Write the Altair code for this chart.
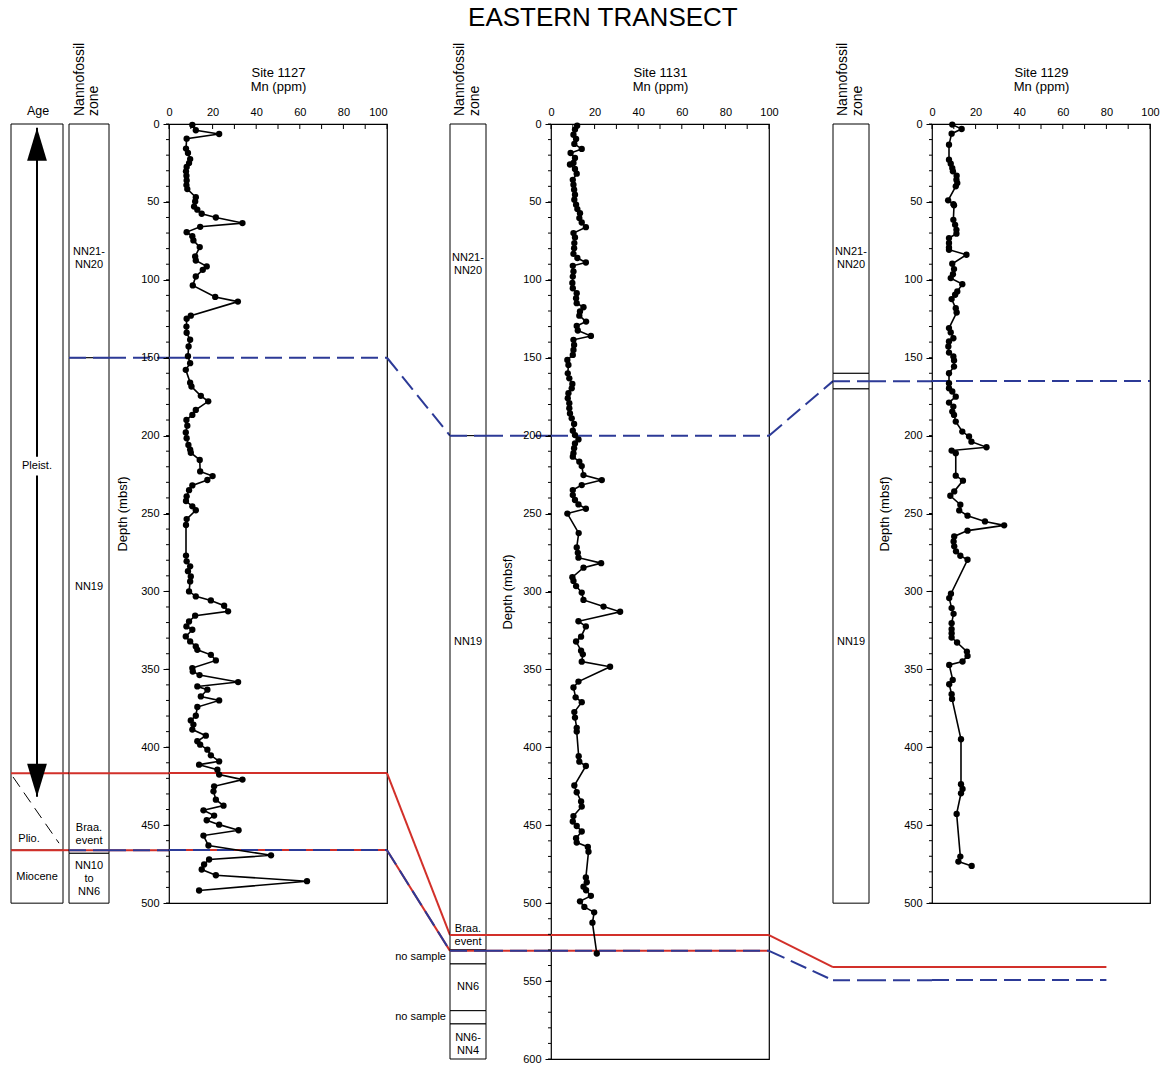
import altair as alt
import pandas as pd

# ------------------------------------------------------------------ data
site1127_depth = [0.6, 4, 6.4, 9.4, 15.8, 18.6, 22.5, 25.1, 27.6, 30.4, 33.2, 36.2, 39.2, 41.8,
    47, 49.7, 53, 55, 57.6, 60, 63.6, 66, 69.4, 72, 74.7, 79, 85, 87.6, 91.4, 93.6, 97.9, 103.6,
    111, 114, 123, 125, 130, 134, 138.5, 142.8, 149, 153.5, 157.8, 166, 168.5, 174.5, 178, 183.5,
    186.7, 190, 193.6, 198, 201.7, 206, 209, 211, 215.6, 223, 226, 228.5, 232, 235, 239, 242,
    245.4, 247.9, 253.6, 257.4, 277, 280.7, 283.9, 287, 290.4, 293.6, 300, 303.2, 305.8, 309.2,
    312.8, 315.6, 319.3, 322.5, 324.6, 328.9, 332.1, 335.3, 337.5, 340.7, 344.3, 349.2, 351.4,
    353.7, 358.2, 361, 363.1, 367.4, 370, 374.2, 379.8, 382.8, 385.5, 388.7, 392.6, 396.2, 398.4,
    401.6, 405.2, 409.1, 411.2, 414.4, 417.6, 420.8, 425.1, 428.3, 433.7, 437.5, 440.5, 443.9,
    446.9, 449.7, 453.3, 456.7, 463.1, 469.4, 472.1, 475.3, 478.5, 482.2, 486, 492]
site1127_mn = [10.7, 12.3, 23, 8.1, 7.8, 8.7, 9.7, 9.2, 8.1, 7.8, 8, 8.1, 8, 8.4,
    12.3, 12, 11.5, 13, 15, 21.5, 33.7, 14.3, 8.1, 10.7, 11.2, 14.1, 12, 12.3, 17.3, 15.5, 12.3, 10.9,
    21.2, 31.6, 10, 8.1, 8, 8.1, 9.7, 9, 8.7, 9.7, 7.7, 9.7, 10.3, 14.6, 18, 12.3,
    10.7, 8, 8.4, 7.7, 8.1, 8.9, 9.7, 10, 14.1, 14.3, 20, 17.6, 10.7, 9.2, 8.1, 7.8,
    10.7, 12.3, 8.1, 7.8, 7.8, 8.1, 9.7, 8.7, 10, 9.7, 9.2, 12.3, 19.2, 25.3,
    27.1, 12, 9.2, 8, 10.7, 7.7, 9.7, 12.3, 13, 19.2, 21.5, 10.7, 10.9,
    14, 31.7, 13, 17.6, 14.6, 23, 13, 12.3, 10, 11.2, 10.7, 16.9, 13, 14.3,
    17.6, 19.2, 23, 13.8, 22.2, 23, 33.7, 20.7, 20.4, 21.5, 25, 15.8, 20.7,
    17.3, 23, 31.9, 15.8, 18.1, 46.8, 18.4, 16.1, 15, 21.5, 63.3, 13.8]

site1131_depth = [1.1, 3.6, 6.9, 9.6, 12.8, 16, 18.6, 21.8, 25, 26,
    28.9, 31.9, 35.8, 39, 42.2, 45.4, 48.6, 51.8, 54.6, 57.2,
    60.4, 63.2, 66.2, 70, 72.8, 76.4, 79.7, 83.3, 86, 88.9,
    91, 94.6, 97.9, 102, 105.4, 108.6, 111.8, 115, 117.6, 120.3,
    123, 126.8, 129.6, 132.5, 136, 138.5, 141.8, 145, 148.2, 151.4,
    154.6, 160, 163.2, 166.8, 169.6, 172.8, 176, 179.2, 182.4, 185.7,
    188.9, 192.5, 196.8, 199.6, 202.4, 205, 208, 211.3, 213.5, 216.7,
    219.5, 225.3, 228.5, 231.7, 234.9, 238.1, 241.3, 244.1, 246.9, 250,
    262.5, 271.7, 275.2, 278.3, 281.8, 284.7, 290.8, 293.2, 296.5, 300.7,
    305.4, 309.7, 313, 319.1, 322.4, 329, 332.1, 338, 340.3, 345,
    348.3, 357.8, 361.6, 367.9, 371, 377.4, 380.9, 387.5, 389.9, 405.7,
    409.2, 412, 424.5, 428.8, 434.7, 438, 444.1, 447.6, 450.5, 454,
    458.3, 461.1, 463.9, 467, 483.5, 486.6, 489.4, 491.7, 495.3, 498.8,
    502.4, 505.9, 512.5, 532.3]
site1131_mn = [12, 11, 10.3, 11.5, 10.7, 14.1, 9, 11, 10.3, 8.7,
    11, 11.8, 10, 10.3, 10.6, 11, 10.7, 11.5, 12.1, 13.3,
    13, 14.1, 16, 10.3, 11, 10.7, 10.6, 10.3, 12.1, 16,
    10, 10.3, 10, 9.8, 10, 11.8, 11.5, 11.8, 14.9, 13.3,
    13, 16.1, 11.8, 12.3, 18.3, 10.3, 10.6, 10.3, 10, 7.5,
    8, 7.7, 8.4, 9.8, 9.5, 8, 7.7, 8.4, 8.4, 8.7,
    9.5, 10.6, 10, 11, 12.6, 11, 10.6, 10.3, 10, 13,
    14.1, 14.9, 23.3, 14.1, 10, 10, 11, 12.6, 16, 7.5,
    12.7, 11.8, 12.3, 12.6, 23, 14.9, 9.8, 10.3, 11.5, 14.1,
    14.9, 24.1, 31.7, 12.6, 16, 13.8, 11.5, 13.8, 14.6, 14.1,
    27.1, 12.6, 10.3, 11.3, 14.1, 10.7, 11, 11.8, 11.8, 12.7,
    13, 16, 10.7, 11.8, 13.8, 14.1, 10.3, 10, 11.8, 14.1,
    11.5, 11.8, 16.9, 17.2, 16, 16.4, 14.9, 16.1, 18.3, 13.3,
    15.3, 19.8, 19, 21]

site1129_depth = [0.4, 3.2, 6.2, 13.3, 22.9, 25.5, 28.3, 30.4, 33.2, 35.8,
    37.9, 40, 49, 51.4, 52.2, 61.5, 64.7, 67.9, 70.4, 73.2,
    76.4, 79.2, 80.7, 83.9, 89.7, 93.1, 96.4, 98.9, 102.8, 107.5,
    109.6, 112.4, 118.2, 121, 131, 133.8, 137.5, 139.6, 142.8, 146.7,
    149.2, 151.8, 155.7, 160, 166.4, 169.6, 171.7, 175, 178.8, 181.4,
    184.6, 186.7, 191, 197.4, 200.6, 203.9, 207.5, 209.6, 211.3, 225.7,
    228.9, 235.8, 238.6, 244.4, 248, 251.4, 255.1, 257.6, 261, 264.7,
    267.9, 271.1, 274.3, 277.1, 279.7, 301.5, 304.3, 310.7, 314.4, 320.4,
    324.2, 326.8, 329.6, 332.8, 338.6, 341.4, 345, 347.2, 356.8, 359.6,
    366, 369, 394.9, 423.8, 426.8, 429.6, 442.8, 470.2, 473.4, 476.2]
site1129_mn = [9.3, 13.6, 9, 7.8, 7.8, 8.6, 9.3, 9.6, 11.3, 11.2,
    11.6, 10.9, 7.4, 9.8, 10.1, 9.8, 10.6, 11.2, 11.2, 7.8,
    7.8, 7.8, 7.8, 15.8, 9.3, 10.1, 9.6, 8.6, 13.9, 11.6,
    10.6, 9, 10.9, 11.3, 7.8, 8.6, 9.8, 7.8, 7.5, 7.8,
    9.8, 10.1, 10.1, 7.8, 7.8, 7.8, 9.3, 10.9, 7.8, 9.8,
    9.3, 10.1, 10.9, 13.9, 17, 18.1, 25, 9, 10.9, 10.9,
    14.2, 10.2, 8.4, 13, 12.5, 16.3, 24.3, 33.1, 16.3, 10.2,
    9.9, 10.2, 11, 13, 16.3, 8.7, 7.9, 9, 9.9, 9,
    9, 9, 9, 11.5, 16, 16.3, 14, 7.9, 9.5, 7.9,
    9, 9.2, 13.3, 13.3, 14, 13.3, 11.3, 13, 12.1, 18.2]

# tick values
mn_tick_values = list(range(0, 101, 10))
mn_label_values = list(range(0, 101, 20))

# age column
age_box_top = [0, 466]
age_box_bottom = [466, 500]
age_labels = ["Pleist.", "Plio.", "Miocene"]
age_label_depth = [219.5, 458.7, 483]
age_arrow_tips = [2.4, 431.7]
age_boundary_dash = [419, 461.5]

# nannofossil zones
zone1_top = [0, 150, 468]
zone1_bottom = [150, 468, 500]
zone1_labels = ["NN21-\nNN20", "NN19", "Braa.\nevent", "NN10\nto\nNN6"]
zone1_label_depth = [86.6, 297, 456, 484.5]

zone2_top = [0, 200, 530, 539, 569, 577.5]
zone2_bottom = [200, 530, 539, 569, 577.5, 600]
zone2_labels = ["NN21-\nNN20", "NN19", "Braa.\nevent", "NN6", "NN6-\nNN4"]
zone2_label_depth = [90, 332.5, 520.6, 554, 590.5]
zone2_gap_labels = ["no sample", "no sample"]
zone2_gap_depth = [534.5, 573.3]

zone3_top = [0, 160, 170]
zone3_bottom = [160, 170, 500]
zone3_labels = ["NN21-\nNN20", "NN19"]
zone3_label_depth = [86.6, 332.5]

# correlation lines (depth at each site)
corr_kind = ["red", "red", "blue", "blue"]
corr_d1127 = [416.6, 466.0, 150.0, 466.0]
corr_d1131 = [520.5, 530.6, 200.0, 530.6]
corr_d1129 = [541.0, None, 165.0, 549.5]
corr_end_mn_1129 = [80, None, 100, 80]

# ------------------------------------------------------------------ layout / style
FONT = "Liberation Sans"
RED = "#d2302a"
BLUE = "#2c3a97"
H_FULL = 935   # 600 m
H_SITE = 779   # 500 m
W_PLOT = 218
LABEL_LH = 13

columns = [
    ("age", 52, "a"), ("gap", 6, "a"), ("zone1", 40, "a"), ("gap", 60, "a"), ("p1127", W_PLOT, "a"),
    ("gap", 63, "ab"), ("zone2", 36, "b"), ("gap", 65, "b"), ("p1131", W_PLOT, "b"),
    ("gap", 64, "bc"), ("zone3", 36, "c"), ("gap", 63, "c"), ("p1129", W_PLOT, "c"),
]
corr_first_col = [0, 0, 2, 2]


def yscale(maxd):
    return alt.Scale(domain=[0, maxd], reverse=True, nice=False, zero=False)


def segments(ci, kind):
    name, w, grp = columns[ci]
    rows = []
    for k in range(len(corr_kind)):
        if corr_kind[k] != kind or ci < corr_first_col[k]:
            continue
        a, b, c = corr_d1127[k], corr_d1131[k], corr_d1129[k]
        if grp == "a":
            y1 = y2 = a
        elif grp == "ab":
            y1, y2 = a, b
        elif grp == "b":
            y1 = y2 = b
        elif grp == "bc":
            if c is None:
                continue
            y1, y2 = b, c
        else:
            if c is None:
                continue
            y1 = y2 = c
        if name.startswith("p"):
            x1, x2 = 0, (corr_end_mn_1129[k] if name == "p1129" else 100)
        else:
            x1, x2 = 0, 1
        rows.append(dict(x1=x1, x2=x2, y1=y1, y2=y2))
    return pd.DataFrame(rows)


def corr_layers(ci, maxd, xaxis=None, yaxis=None):
    name = columns[ci][0]
    xdom = [0, 100] if name.startswith("p") else [0, 1]
    out = []
    for kind, color, dash in (("red", RED, None), ("blue", BLUE, [17, 7])):
        df = segments(ci, kind)
        if df.empty:
            continue
        kw = dict(color=color, strokeWidth=2)
        if dash:
            kw["strokeDash"] = dash
        out.append(alt.Chart(df).mark_rule(**kw).encode(
            x=alt.X("x1:Q", scale=alt.Scale(domain=xdom, nice=False, zero=False), axis=xaxis),
            x2="x2:Q",
            y=alt.Y("y1:Q", scale=yscale(maxd), axis=yaxis),
            y2="y2:Q"))
    return out


def label_layers(labels, depths, x, ysc):
    """Multi-line labels centred on their depth (one layer per line count)."""
    out = []
    counts = sorted(set(t.count("\n") for t in labels))
    for n in counts:
        sel = [(t, d) for t, d in zip(labels, depths) if t.count("\n") == n]
        df = pd.DataFrame({"t": [s[0] for s in sel], "d": [s[1] for s in sel]})
        out.append(alt.Chart(df).mark_text(
            fontSize=11, lineBreak="\n", lineHeight=LABEL_LH, color="black",
            dy=-n * LABEL_LH / 2).encode(
            x=alt.value(x), y=alt.Y("d:Q", scale=ysc, axis=None), text="t:N"))
    return out


def header_text(x):
    return alt.Chart(pd.DataFrame({"t": ["Nannofossil\nzone"]})).mark_text(
        fontSize=14, angle=270, align="left", baseline="alphabetic", lineBreak="\n",
        lineHeight=14.5, color="black").encode(x=alt.value(x), y=alt.value(-8), text="t:N")


def zone_chart(ci, tops, bottoms, labels, label_depths, header_x, extra=None):
    w = columns[ci][1]
    ysc = yscale(600)
    boxes = alt.Chart(pd.DataFrame({"top": tops, "bottom": bottoms})).mark_rect(
        fill="white", stroke="black", strokeWidth=1).encode(
        x=alt.value(0), x2=alt.value(w), y=alt.Y("top:Q", scale=ysc, axis=None), y2="bottom:Q")
    layers = ([boxes] + corr_layers(ci, 600) + label_layers(labels, label_depths, w / 2, ysc)
              + [header_text(header_x)])
    if extra is not None:
        layers.append(extra)
    return alt.layer(*layers).properties(width=w, height=H_FULL)


def gap_chart(ci):
    w = columns[ci][1]
    return alt.layer(*corr_layers(ci, 600)).properties(width=w, height=H_FULL)


def age_chart(ci):
    w = columns[ci][1]
    ysc = yscale(600)
    boxes = alt.Chart(pd.DataFrame({"top": age_box_top, "bottom": age_box_bottom})).mark_rect(
        fill="white", stroke="black", strokeWidth=1).encode(
        x=alt.value(0), x2=alt.value(w), y=alt.Y("top:Q", scale=ysc, axis=None), y2="bottom:Q")
    # arrow shaft, interrupted around the "Pleist." label
    shaft_df = pd.DataFrame({"a": [age_arrow_tips[0], age_label_depth[0] + 6],
                             "b": [age_label_depth[0] - 6, age_arrow_tips[1]]})
    shaft = alt.Chart(shaft_df).mark_rule(color="black", strokeWidth=2).encode(
        x=alt.value(26), y=alt.Y("a:Q", scale=ysc, axis=None), y2="b:Q")
    head_up = alt.Chart(pd.DataFrame({"d": [age_arrow_tips[0]]})).mark_point(
        shape="M0,0L0.6,2L-0.6,2Z", size=1089, filled=True, color="black", opacity=1,
        strokeWidth=0).encode(x=alt.value(26), y=alt.Y("d:Q", scale=ysc, axis=None))
    head_dn = alt.Chart(pd.DataFrame({"d": [age_arrow_tips[1]]})).mark_point(
        shape="M0,0L0.6,-2L-0.6,-2Z", size=1089, filled=True, color="black", opacity=1,
        strokeWidth=0).encode(x=alt.value(26), y=alt.Y("d:Q", scale=ysc, axis=None))
    dash = alt.Chart(pd.DataFrame({"a": [age_boundary_dash[0]], "b": [age_boundary_dash[1]]})).mark_rule(
        color="black", strokeWidth=1, strokeDash=[12, 7]).encode(
        x=alt.value(2), x2=alt.value(48), y=alt.Y("a:Q", scale=ysc, axis=None), y2="b:Q")
    label_x = [26, 18, 26]
    labels = [alt.Chart(pd.DataFrame({"t": [t], "d": [d]})).mark_text(
        fontSize=11, color="black").encode(
        x=alt.value(lx), y=alt.Y("d:Q", scale=ysc, axis=None), text="t:N")
        for t, d, lx in zip(age_labels, age_label_depth, label_x)]
    head = alt.Chart(pd.DataFrame({"t": ["Age"]})).mark_text(
        fontSize=12.5, baseline="alphabetic", color="black").encode(
        x=alt.value(27), y=alt.value(-9), text="t:N")
    layers = [boxes] + corr_layers(ci, 600) + [shaft, head_up, head_dn, dash] + labels + [head]
    return alt.layer(*layers).properties(width=w, height=H_FULL)


def site_chart(ci, depth, mn, maxd, height, title, ytitle_x, flush_last=False):
    df = pd.DataFrame({"depth": depth, "mn": mn})
    xsc = alt.Scale(domain=[0, 100], nice=False, zero=False)
    ysc = yscale(maxd)
    label_align = ({"condition": {"test": "datum.value === 100", "value": "right"}, "value": "center"}
                   if flush_last else "center")
    xaxis = alt.Axis(orient="top", values=mn_label_values, title=title, titleFontSize=13,
                     titleFontWeight="normal", titleLineHeight=14, titleY=-47.5,
                     titleBaseline="alphabetic", labelFontSize=11, labelPadding=7, ticks=False,
                     tickSize=0, domain=False, grid=False, labelFlush=False,
                     labelAlign=label_align)
    yaxis = alt.Axis(orient="left", values=list(range(0, maxd + 1, 50)), title="Depth (mbsf)",
                     titleFontSize=13, titleFontWeight="normal", titleX=ytitle_x,
                     titleBaseline="bottom", titleAngle=270, labelFontSize=11, tickSize=6,
                     labelPadding=4, domain=False, grid=False)
    base = alt.Chart(df).encode(x=alt.X("mn:Q", scale=xsc, axis=xaxis),
                                y=alt.Y("depth:Q", scale=ysc, axis=yaxis))
    line = base.mark_line(color="black", strokeWidth=1.6).encode(order="depth:Q")
    pts = base.mark_circle(size=40, color="black", opacity=1)
    xt = alt.Chart(pd.DataFrame({"v": mn_tick_values})).mark_rule(color="black", strokeWidth=1).encode(
        x=alt.X("v:Q", scale=xsc, axis=xaxis), y=alt.value(0), y2=alt.value(5))
    yt = alt.Chart(pd.DataFrame({"d": list(range(0, maxd + 1, 10))})).mark_rule(
        color="black", strokeWidth=1).encode(
        y=alt.Y("d:Q", scale=ysc, axis=yaxis), x=alt.value(-3), x2=alt.value(0))
    layers = corr_layers(ci, maxd, xaxis, yaxis) + [xt, yt, line, pts]
    return alt.layer(*layers).properties(
        width=W_PLOT, height=height,
        view=alt.ViewBackground(stroke="black", strokeWidth=1.2))


charts = [
    age_chart(0),
    gap_chart(1),
    zone_chart(2, zone1_top, zone1_bottom, zone1_labels, zone1_label_depth, 14.8),
    gap_chart(3),
    site_chart(4, site1127_depth, site1127_mn, 500, H_SITE, ["Site 1127", "Mn (ppm)"], -39.5, True),
    gap_chart(5),
    zone_chart(6, zone2_top, zone2_bottom, zone2_labels, zone2_label_depth, 14.3,
               extra=alt.Chart(pd.DataFrame({"t": zone2_gap_labels, "d": zone2_gap_depth})).mark_text(
                   fontSize=11, align="right", color="black").encode(
                   x=alt.value(-4), y=alt.Y("d:Q", scale=yscale(600), axis=None), text="t:N")),
    gap_chart(7),
    site_chart(8, site1131_depth, site1131_mn, 600, H_FULL, ["Site 1131", "Mn (ppm)"], -37),
    gap_chart(9),
    zone_chart(10, zone3_top, zone3_bottom, zone3_labels, zone3_label_depth, 14.3),
    gap_chart(11),
    site_chart(12, site1129_depth, site1129_mn, 500, H_SITE, ["Site 1129", "Mn (ppm)"], -40.5),
]

chart = alt.hconcat(*charts, spacing=0, bounds="flush").properties(
    title=alt.TitleParams("EASTERN TRANSECT", fontSize=26, fontWeight="normal", anchor="middle",
                          color="black", offset=12, dx=18),
    padding={"left": 10, "top": 4, "right": 5, "bottom": 0},
).configure(font=FONT).configure_view(strokeWidth=0).configure_axis(
    labelColor="black", titleColor="black", tickColor="black", labelFont=FONT, titleFont=FONT)

chart.save("out.html", embed_options={"renderer": "svg", "actions": False})
